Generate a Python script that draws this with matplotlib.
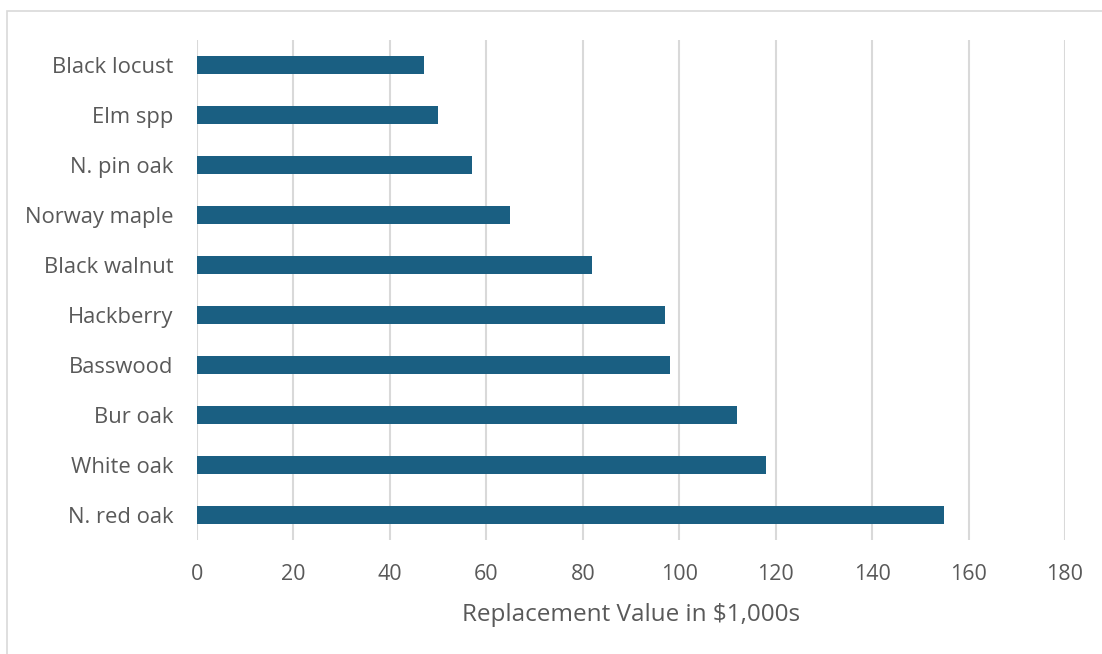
import matplotlib.pyplot as plt
from matplotlib.patches import Rectangle

# Replacement value by species ($1,000s), top to bottom
species = ["Black locust", "Elm spp", "N. pin oak", "Norway maple", "Black walnut",
           "Hackberry", "Basswood", "Bur oak", "White oak", "N. red oak"]
values = [47, 50, 57, 65, 82, 97, 98, 112, 118, 155]
ticks = [0, 20, 40, 60, 80, 100, 120, 140, 160, 180]

bar_color = "#1a5f82"
text_color = "#595959"
plt.rcParams['font.family'] = ['Open Sans', 'DejaVu Sans']

fig = plt.figure(figsize=(11.02, 6.54), dpi=100)
ax = fig.add_axes([0.1788, 0.1743, 0.7876, 0.7645])

ypos = list(range(len(species)))
ax.barh(ypos, values, height=0.35, color=bar_color, zorder=3)
ax.set_ylim(len(species) - 0.5, -0.5)
ax.set_yticks(ypos)
ax.set_yticklabels(species, fontsize=15.8, color=text_color)

ax.set_xlim(0, 180)
ax.set_xticks(ticks)
ax.set_xticklabels([str(t) for t in ticks], fontsize=15.5, color=text_color)
ax.grid(axis="x", color="#d9d9d9", linewidth=1.5, zorder=0)
ax.tick_params(length=0)
ax.tick_params(axis="x", pad=17)
ax.tick_params(axis="y", pad=17)
for s in ax.spines.values():
    s.set_visible(False)

ax.set_xlabel("Replacement Value in $1,000s", fontsize=17.5, color=text_color, labelpad=13)

# light chart-area border
fig.patches.append(Rectangle((7 / 1102, -0.01), 1.02, 1 - 11 / 654 + 0.01,
                             transform=fig.transFigure, fill=False,
                             edgecolor="#d9d9d9", linewidth=1.2))

fig.savefig("out.png", dpi=100)
